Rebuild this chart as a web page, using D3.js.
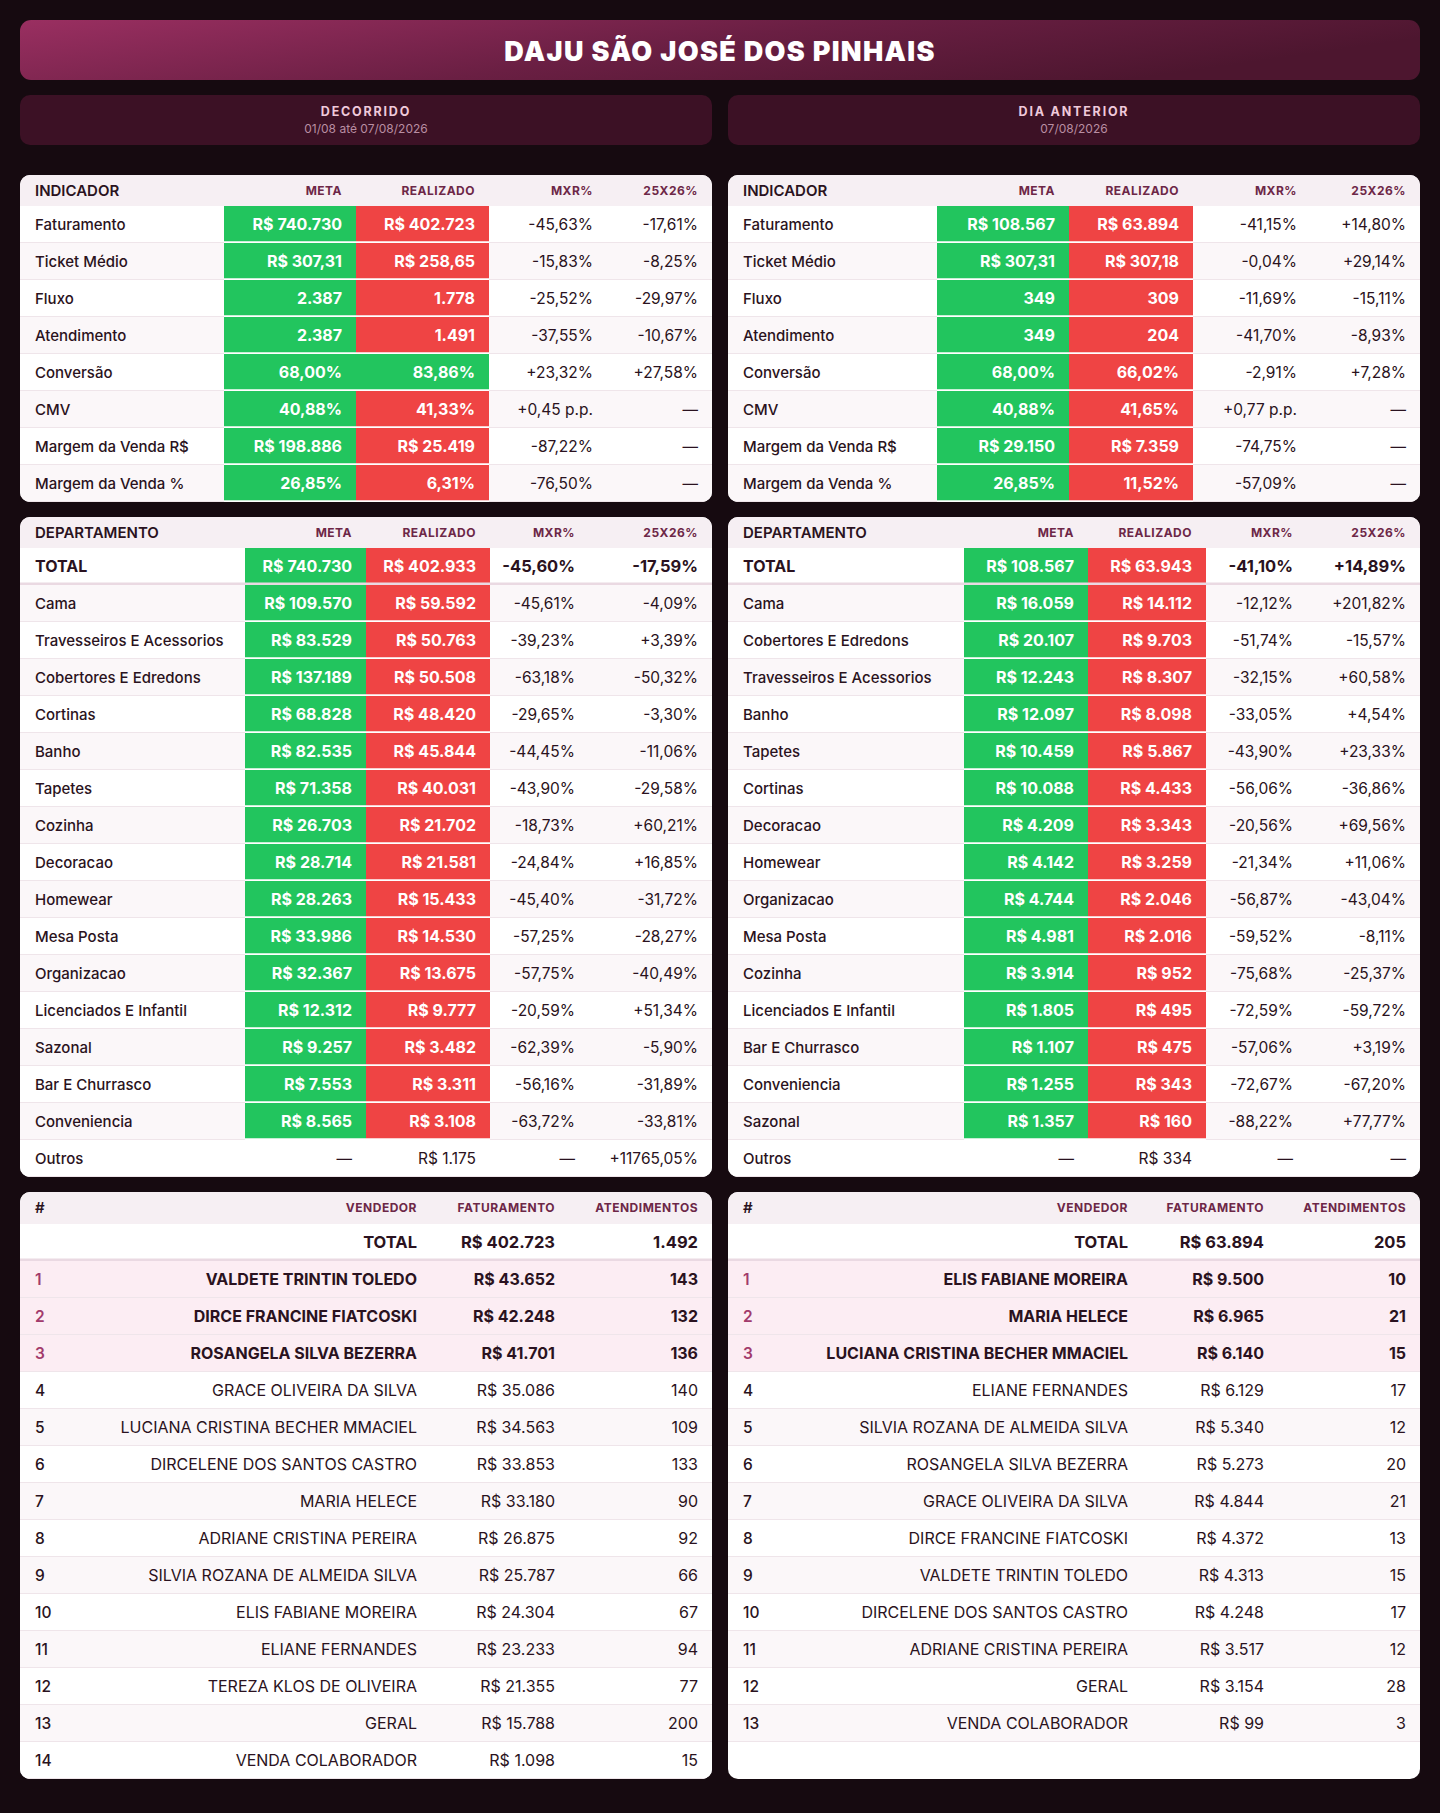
<!DOCTYPE html>
<html>
<head>
<meta charset="utf-8">
<script src="https://cdn.jsdelivr.net/npm/d3@7"></script>
<style>
  body { margin: 0; background: #160a10; }
  svg { display: block; font-family: Inter, 'Noto Sans', sans-serif; }
</style>
</head>
<body>
<div id="chart"></div>
<script>
// ---- data ----
var titulo = 'DAJU SÃO JOSÉ DOS PINHAIS';
var periodos = ['DECORRIDO', 'DIA ANTERIOR'];
var periodoDatas = ['01/08 até 07/08/2026', '07/08/2026'];

var indicadores = ['Faturamento', 'Ticket Médio', 'Fluxo', 'Atendimento', 'Conversão', 'CMV', 'Margem da Venda R$', 'Margem da Venda %'];
var indFormato = ['brl0', 'brl2', 'int', 'int', 'pct', 'pct', 'brl0', 'pct'];
var indUnidadeMxr = ['%', '%', '%', '%', '%', 'pp', '%', '%'];

var indMetaDec = [740730, 307.31, 2387, 2387, 68.00, 40.88, 198886, 26.85];
var indRealDec = [402723, 258.65, 1778, 1491, 83.86, 41.33, 25419, 6.31];
var indOkDec = [false, false, false, false, true, false, false, false];
var indMxrDec = [-45.63, -15.83, -25.52, -37.55, 23.32, 0.45, -87.22, -76.50];
var indYoyDec = [-17.61, -8.25, -29.97, -10.67, 27.58, null, null, null];

var indMetaAnt = [108567, 307.31, 349, 349, 68.00, 40.88, 29150, 26.85];
var indRealAnt = [63894, 307.18, 309, 204, 66.02, 41.65, 7359, 11.52];
var indOkAnt = [false, false, false, false, false, false, false, false];
var indMxrAnt = [-41.15, -0.04, -11.69, -41.70, -2.91, 0.77, -74.75, -57.09];
var indYoyAnt = [14.80, 29.14, -15.11, -8.93, 7.28, null, null, null];

var depNomesDec = ['TOTAL', 'Cama', 'Travesseiros E Acessorios', 'Cobertores E Edredons', 'Cortinas', 'Banho', 'Tapetes', 'Cozinha', 'Decoracao', 'Homewear', 'Mesa Posta', 'Organizacao', 'Licenciados E Infantil', 'Sazonal', 'Bar E Churrasco', 'Conveniencia', 'Outros'];
var depMetaDec = [740730, 109570, 83529, 137189, 68828, 82535, 71358, 26703, 28714, 28263, 33986, 32367, 12312, 9257, 7553, 8565, null];
var depRealDec = [402933, 59592, 50763, 50508, 48420, 45844, 40031, 21702, 21581, 15433, 14530, 13675, 9777, 3482, 3311, 3108, 1175];
var depMxrDec = [-45.60, -45.61, -39.23, -63.18, -29.65, -44.45, -43.90, -18.73, -24.84, -45.40, -57.25, -57.75, -20.59, -62.39, -56.16, -63.72, null];
var depYoyDec = [-17.59, -4.09, 3.39, -50.32, -3.30, -11.06, -29.58, 60.21, 16.85, -31.72, -28.27, -40.49, 51.34, -5.90, -31.89, -33.81, 11765.05];

var depNomesAnt = ['TOTAL', 'Cama', 'Cobertores E Edredons', 'Travesseiros E Acessorios', 'Banho', 'Tapetes', 'Cortinas', 'Decoracao', 'Homewear', 'Organizacao', 'Mesa Posta', 'Cozinha', 'Licenciados E Infantil', 'Bar E Churrasco', 'Conveniencia', 'Sazonal', 'Outros'];
var depMetaAnt = [108567, 16059, 20107, 12243, 12097, 10459, 10088, 4209, 4142, 4744, 4981, 3914, 1805, 1107, 1255, 1357, null];
var depRealAnt = [63943, 14112, 9703, 8307, 8098, 5867, 4433, 3343, 3259, 2046, 2016, 952, 495, 475, 343, 160, 334];
var depMxrAnt = [-41.10, -12.12, -51.74, -32.15, -33.05, -43.90, -56.06, -20.56, -21.34, -56.87, -59.52, -75.68, -72.59, -57.06, -72.67, -88.22, null];
var depYoyAnt = [14.89, 201.82, -15.57, 60.58, 4.54, 23.33, -36.86, 69.56, 11.06, -43.04, -8.11, -25.37, -59.72, 3.19, -67.20, 77.77, null];

var vendNomesDec = ['VALDETE TRINTIN TOLEDO', 'DIRCE FRANCINE FIATCOSKI', 'ROSANGELA SILVA BEZERRA', 'GRACE OLIVEIRA DA SILVA', 'LUCIANA CRISTINA BECHER MMACIEL', 'DIRCELENE DOS SANTOS CASTRO', 'MARIA HELECE', 'ADRIANE CRISTINA PEREIRA', 'SILVIA ROZANA DE ALMEIDA SILVA', 'ELIS FABIANE MOREIRA', 'ELIANE FERNANDES', 'TEREZA KLOS DE OLIVEIRA', 'GERAL', 'VENDA COLABORADOR'];
var vendFatDec = [43652, 42248, 41701, 35086, 34563, 33853, 33180, 26875, 25787, 24304, 23233, 21355, 15788, 1098];
var vendAtdDec = [143, 132, 136, 140, 109, 133, 90, 92, 66, 67, 94, 77, 200, 15];
var vendTotalDec = [402723, 1492];

var vendNomesAnt = ['ELIS FABIANE MOREIRA', 'MARIA HELECE', 'LUCIANA CRISTINA BECHER MMACIEL', 'ELIANE FERNANDES', 'SILVIA ROZANA DE ALMEIDA SILVA', 'ROSANGELA SILVA BEZERRA', 'GRACE OLIVEIRA DA SILVA', 'DIRCE FRANCINE FIATCOSKI', 'VALDETE TRINTIN TOLEDO', 'DIRCELENE DOS SANTOS CASTRO', 'ADRIANE CRISTINA PEREIRA', 'GERAL', 'VENDA COLABORADOR'];
var vendFatAnt = [9500, 6965, 6140, 6129, 5340, 5273, 4844, 4372, 4313, 4248, 3517, 3154, 99];
var vendAtdAnt = [10, 21, 15, 17, 12, 20, 21, 13, 15, 17, 12, 28, 3];
var vendTotalAnt = [63894, 205];

// ---- layout / style ----
var width = 1440, height = 1813;
var pad = 20, gap = 15, colW = 692;
var colX = [pad, width - pad - colW];
var rowH = 37, headH = 31;

var GREEN = '#22c55e', RED = '#ef4444';
var INK = '#2a1220', HEADINK = '#6d2747';
var ZEBRA = '#fbf7f9', HEADBG = '#f6eff3', SEP = '#efe5ea', TOP3 = '#fcedf3', RANK = '#a23b6c';

var loc = d3.formatLocale({decimal: ',', thousands: '.', grouping: [3], currency: ['R$ ', ''], minus: '-'});
var fBrl0 = loc.format('$,.0f'), fBrl2 = loc.format('$,.2f'), fInt = loc.format(',.0f'),
    fFix = loc.format('.2f'), fSig = loc.format('+.2f');
var DASH = '—';

function fmtVal(v, tipo) {
  if (v == null) return DASH;
  switch (tipo) {
    case 'brl0': return fBrl0(v);
    case 'brl2': return fBrl2(v);
    case 'int': return fInt(v);
    case 'pct': return fFix(v) + '%';
    default: return String(v);
  }
}
function fmtVar(v, unidade) {
  if (v == null) return DASH;
  return unidade === 'pp' ? fSig(v) + ' p.p.' : fSig(v) + '%';
}

var svg = d3.select('#chart').append('svg')
  .attr('width', width).attr('height', height);
var defs = svg.append('defs');
svg.append('rect').attr('width', width).attr('height', height).attr('fill', '#160a10');

// title
var grad = defs.append('linearGradient').attr('id', 'tgrad').attr('x1', 0).attr('x2', 1).attr('y1', 0).attr('y2', 0.3);
grad.append('stop').attr('offset', '0%').attr('stop-color', '#9a2f61');
grad.append('stop').attr('offset', '55%').attr('stop-color', '#6a1f43');
grad.append('stop').attr('offset', '100%').attr('stop-color', '#4d162f');

svg.append('rect').attr('x', pad).attr('y', 20).attr('width', width - 2 * pad).attr('height', 60)
  .attr('rx', 11).attr('fill', 'url(#tgrad)');
svg.append('text').attr('x', width / 2).attr('y', 51).attr('dy', '0.36em')
  .attr('text-anchor', 'middle').attr('fill', '#fff')
  .style('font-size', '27px').style('font-weight', 900).style('letter-spacing', '1.3px')
  .text(titulo);

// period cards
var per = svg.selectAll('g.periodo').data(periodos).join('g').attr('class', 'periodo')
  .attr('transform', function(d, i){ return 'translate(' + colX[i] + ',95)'; });
per.append('rect').attr('width', colW).attr('height', 50).attr('rx', 10).attr('fill', '#3c1125');
per.append('text').attr('x', colW / 2).attr('y', 21)
  .attr('text-anchor', 'middle').attr('fill', '#efc9da')
  .style('font-size', '12.5px').style('font-weight', 700).style('letter-spacing', '1.8px')
  .text(function(d){ return d; });
per.append('text').attr('x', colW / 2).attr('y', 38)
  .attr('text-anchor', 'middle').attr('fill', '#b98ea2')
  .style('font-size', '12px')
  .text(function(d, i){ return periodoDatas[i]; });

// ---- table helpers ----
var cardCount = 0;
function card(x, y, h) {
  var id = 'clip' + (cardCount++);
  defs.append('clipPath').attr('id', id).append('rect')
    .attr('width', colW).attr('height', h).attr('rx', 10);
  var g = svg.append('g').attr('transform', 'translate(' + x + ',' + y + ')');
  var inner = g.append('g').attr('clip-path', 'url(#' + id + ')');
  inner.append('rect').attr('width', colW).attr('height', h).attr('fill', '#fff');
  return inner;
}

function header(g, cols, h) {
  g.append('rect').attr('width', colW).attr('height', h).attr('fill', HEADBG);
  g.selectAll('text.hd').data(cols).join('text').attr('class', 'hd')
    .attr('x', function(d){ return d.x; }).attr('y', h / 2).attr('dy', '0.36em')
    .attr('text-anchor', function(d){ return d.anchor; })
    .attr('fill', function(d){ return d.big ? INK : HEADINK; })
    .style('font-size', function(d){ return d.big ? '15px' : '12px'; })
    .style('font-weight', function(d){ return d.big ? 600 : 700; })
    .style('letter-spacing', function(d){ return d.big ? '0px' : '0.5px'; })
    .text(function(d){ return d.text; });
}

// draws rows; each row: {bg, cells:[{text,x,anchor,weight,size,fill,band:[x0,x1,color]}], bottomLine}
function drawRows(g, rows, yScale) {
  var r = g.selectAll('g.row').data(rows).join('g').attr('class', 'row')
    .attr('transform', function(d, i){ return 'translate(0,' + yScale(i) + ')'; });
  r.append('rect').attr('width', colW).attr('height', function(d, i){ return yScale(i + 1) - yScale(i); })
    .attr('fill', function(d){ return d.bg; });
  r.each(function(d, i) {
    var sel = d3.select(this);
    var h = yScale(i + 1) - yScale(i);
    d.cells.forEach(function(c) {
      if (c.band) {
        sel.append('rect').attr('x', c.band[0]).attr('width', c.band[1] - c.band[0])
          .attr('height', h - 1.5).attr('fill', c.band[2]);
      }
    });
    if (d.bottomLine) {
      sel.append('rect').attr('y', h - d.bottomLine.w).attr('width', colW)
        .attr('height', d.bottomLine.w).attr('fill', d.bottomLine.color);
    } else {
      sel.append('rect').attr('y', h - 1).attr('width', colW).attr('height', 1).attr('fill', SEP);
      d.cells.forEach(function(c) {
        if (c.band) sel.append('rect').attr('x', c.band[0]).attr('y', h - 1.5)
          .attr('width', c.band[1] - c.band[0]).attr('height', 1.5).attr('fill', '#fff');
      });
    }
    sel.selectAll('text').data(d.cells).join('text')
      .attr('x', function(c){ return c.x; }).attr('y', h / 2).attr('dy', '0.36em')
      .attr('text-anchor', function(c){ return c.anchor || 'end'; })
      .attr('fill', function(c){ return c.fill || INK; })
      .style('font-size', function(c){ return (c.size || 15.5) + 'px'; })
      .style('font-weight', function(c){ return c.weight || 400; })
      .text(function(c){ return c.text; });
  });
}

// ---- indicadores ----
var indCols = [
  {meta: [204, 336], real: [336, 469], mxr: 573, yoy: 678},
  {meta: [209, 341], real: [341, 465], mxr: 569, yoy: 678}
];
var indSets = [
  [indMetaDec, indRealDec, indOkDec, indMxrDec, indYoyDec],
  [indMetaAnt, indRealAnt, indOkAnt, indMxrAnt, indYoyAnt]
];
indSets.forEach(function(set, s) {
  var c = indCols[s];
  var n = indicadores.length;
  var g = card(colX[s], 175, headH + n * rowH);
  header(g, [
    {text: 'INDICADOR', x: 15, anchor: 'start', big: true},
    {text: 'META', x: c.meta[1] - 14, anchor: 'end'},
    {text: 'REALIZADO', x: c.real[1] - 14, anchor: 'end'},
    {text: 'MXR%', x: c.mxr, anchor: 'end'},
    {text: '25X26%', x: c.yoy, anchor: 'end'}
  ], headH);
  var y = d3.scaleLinear().domain([0, n]).range([headH, headH + n * rowH]);
  var rows = indicadores.map(function(nome, i) {
    return {
      bg: i % 2 ? ZEBRA : '#fff',
      cells: [
        {text: nome, x: 15, anchor: 'start', weight: 500, size: 15},
        {text: fmtVal(set[0][i], indFormato[i]), x: c.meta[1] - 14, weight: 700, size: 16, fill: '#fff', band: [c.meta[0], c.meta[1], GREEN]},
        {text: fmtVal(set[1][i], indFormato[i]), x: c.real[1] - 14, weight: 700, size: 16, fill: '#fff', band: [c.real[0], c.real[1], set[2][i] ? GREEN : RED]},
        {text: fmtVar(set[3][i], indUnidadeMxr[i]), x: c.mxr},
        {text: fmtVar(set[4][i], '%'), x: c.yoy}
      ]
    };
  });
  drawRows(g, rows, y);
});

// ---- departamentos ----
var depCols = [
  {meta: [225, 346], real: [346, 470], mxr: 555, yoy: 678},
  {meta: [236, 360], real: [360, 478], mxr: 565, yoy: 678}
];
var depSets = [
  [depNomesDec, depMetaDec, depRealDec, depMxrDec, depYoyDec],
  [depNomesAnt, depMetaAnt, depRealAnt, depMxrAnt, depYoyAnt]
];
depSets.forEach(function(set, s) {
  var c = depCols[s];
  var n = set[0].length;
  var g = card(colX[s], 517, headH + n * rowH);
  header(g, [
    {text: 'DEPARTAMENTO', x: 15, anchor: 'start', big: true},
    {text: 'META', x: c.meta[1] - 14, anchor: 'end'},
    {text: 'REALIZADO', x: c.real[1] - 14, anchor: 'end'},
    {text: 'MXR%', x: c.mxr, anchor: 'end'},
    {text: '25X26%', x: c.yoy, anchor: 'end'}
  ], headH);
  var y = d3.scaleLinear().domain([0, n]).range([headH, headH + n * rowH]);
  var rows = set[0].map(function(nome, i) {
    var total = i === 0;
    var temMeta = set[1][i] != null;
    var bw = total ? 700 : 400;
    return {
      bg: i % 2 ? ZEBRA : '#fff',
      bottomLine: total ? {w: 2.5, color: '#ead9e2'} : null,
      cells: [
        {text: nome, x: 15, anchor: 'start', weight: total ? 700 : 500, size: total ? 16 : 15},
        temMeta
          ? {text: fBrl0(set[1][i]), x: c.meta[1] - 14, weight: 700, size: 16, fill: '#fff', band: [c.meta[0], c.meta[1], GREEN]}
          : {text: DASH, x: c.meta[1] - 14},
        temMeta
          ? {text: fBrl0(set[2][i]), x: c.real[1] - 14, weight: 700, size: 16, fill: '#fff', band: [c.real[0], c.real[1], RED]}
          : {text: fBrl0(set[2][i]), x: c.real[1] - 14},
        {text: fmtVar(set[3][i], '%'), x: c.mxr, weight: bw, size: total ? 16.5 : 15.5},
        {text: fmtVar(set[4][i], '%'), x: c.yoy, weight: bw, size: total ? 16.5 : 15.5}
      ]
    };
  });
  drawRows(g, rows, y);
});

// ---- vendedores ----
var vendCols = [
  {nome: 397, fat: 535, atd: 678},
  {nome: 400, fat: 536, atd: 678}
];
var vendSets = [
  [vendNomesDec, vendFatDec, vendAtdDec, vendTotalDec],
  [vendNomesAnt, vendFatAnt, vendAtdAnt, vendTotalAnt]
];
var vendSlots = d3.max(vendSets, function(s){ return s[0].length; });
var vendTop = 1192, vendHead = 32;
vendSets.forEach(function(set, s) {
  var c = vendCols[s];
  var g = card(colX[s], vendTop, vendHead + rowH + vendSlots * rowH);
  header(g, [
    {text: '#', x: 15, anchor: 'start', big: true},
    {text: 'VENDEDOR', x: c.nome, anchor: 'end'},
    {text: 'FATURAMENTO', x: c.fat, anchor: 'end'},
    {text: 'ATENDIMENTOS', x: c.atd, anchor: 'end'}
  ], vendHead);

  var rows = [{
    bg: '#fff',
    bottomLine: {w: 2.5, color: '#ead9e2'},
    cells: [
      {text: 'TOTAL', x: c.nome, weight: 700, size: 16.5},
      {text: fBrl0(set[3][0]), x: c.fat, weight: 700, size: 16.5},
      {text: fInt(set[3][1]), x: c.atd, weight: 700, size: 16.5}
    ]
  }];
  set[0].forEach(function(nome, i) {
    var rank = i + 1, top = rank <= 3;
    rows.push({
      bg: top ? TOP3 : (rank % 2 ? ZEBRA : '#fff'),
      cells: [
        {text: String(rank), x: 15, anchor: 'start', weight: top ? 600 : 500, size: 15.5, fill: top ? RANK : INK},
        {text: nome, x: c.nome, weight: top ? 700 : 400, size: 16},
        {text: fBrl0(set[1][i]), x: c.fat, weight: top ? 700 : 400, size: 16},
        {text: fInt(set[2][i]), x: c.atd, weight: top ? 700 : 400, size: 16}
      ]
    });
  });
  var nRows = rows.length;
  var y = d3.scaleLinear().domain([0, nRows]).range([vendHead, vendHead + nRows * rowH]);
  drawRows(g, rows, y);
});
</script>
</body>
</html>
